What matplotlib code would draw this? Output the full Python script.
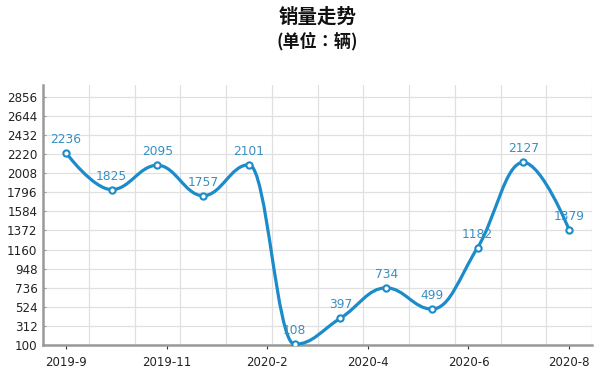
'''
Monthly sales trend line chart (销量走势)
'''

import numpy as np
import matplotlib
matplotlib.use("Agg")
import matplotlib.pyplot as plt
from matplotlib.path import Path
from matplotlib.patches import PathPatch

plt.rcParams['font.family'] = ['DejaVu Sans', 'Noto Sans CJK SC']

months = ['2019-9', '2019-10', '2019-11', '2019-12', '2020-1', '2020-2',
          '2020-3', '2020-4', '2020-5', '2020-6', '2020-7', '2020-8']
sales = [2236, 1825, 2095, 1757, 2101, 108, 397, 734, 499, 1182, 2127, 1379]
tick_labels = ['2019-9', '2019-11', '2020-2', '2020-4', '2020-6', '2020-8']
y_ticks = [100, 312, 524, 736, 948, 1160, 1372, 1584, 1796, 2008, 2220,
           2432, 2644, 2856]

LINE = '#1b8bc9'
LABEL = '#3a8fc0'


def spline_path(xs, ys, smoothing=1.5):
    '''
    Build a smooth bezier path through the points (same idea as a
    charting library "spline" series: flat at local extremes).
    '''
    denom = smoothing + 1
    n = len(xs)
    right_cont = [None] * n
    verts = [(xs[0], ys[0])]
    codes = [Path.MOVETO]
    for i in range(1, n):
        x, y = xs[i], ys[i]
        lx, ly = xs[i - 1], ys[i - 1]
        left_x, left_y = x, y
        if i < n - 1:
            nx, ny = xs[i + 1], ys[i + 1]
            left_x = (smoothing * x + lx) / denom
            left_y = (smoothing * y + ly) / denom
            r_x = (smoothing * x + nx) / denom
            r_y = (smoothing * y + ny) / denom
            corr = (r_y - left_y) * (r_x - x) / (r_x - left_x) + y - r_y
            left_y += corr
            r_y += corr
            if left_y > ly and left_y > y:
                left_y = max(ly, y)
                r_y = 2 * y - left_y
            elif left_y < ly and left_y < y:
                left_y = min(ly, y)
                r_y = 2 * y - left_y
            if r_y > ny and r_y > y:
                r_y = max(ny, y)
                left_y = 2 * y - r_y
            elif r_y < ny and r_y < y:
                r_y = min(ny, y)
                left_y = 2 * y - r_y
            right_cont[i] = (r_x, r_y)
        prev = right_cont[i - 1] if right_cont[i - 1] else (lx, ly)
        verts += [prev, (left_x, left_y), (x, y)]
        codes += [Path.CURVE4] * 3
    return Path(verts, codes)


fig = plt.figure(figsize=(6, 3.8), dpi=100)
ax = fig.add_axes([43 / 600, 1 - 345 / 380, 549 / 600, 260 / 380])

x = np.arange(len(months))
ax.add_patch(PathPatch(spline_path(x, sales), fill=False, edgecolor=LINE,
                       lw=2.3, capstyle='round', joinstyle='round', zorder=3))
ax.plot(x, sales, 'o', ms=4.5, mfc='white', mec=LINE, mew=1.5, zorder=4)

for xi, v in zip(x, sales):
    ax.annotate(str(v), (xi, v), xytext=(0, 5), textcoords='offset points',
                ha='center', va='bottom', fontsize=8.8, color=LABEL, zorder=5)

ax.set_xlim(-0.5, len(months) - 0.5)
ax.set_ylim(100, 2986)
ax.set_yticks(y_ticks)
ax.set_yticklabels([str(t) for t in y_ticks])
ax.set_xticks(np.linspace(0, len(months) - 1, len(tick_labels)))
ax.set_xticklabels(tick_labels)
ax.set_xticks(np.arange(len(months)) + 0.5, minor=True)

ax.grid(True, 'major', 'y', color='#e0e0e0', lw=0.9)
ax.grid(True, 'minor', 'x', color='#e0e0e0', lw=0.9)
ax.set_axisbelow(True)

ax.tick_params(axis='x', which='major', length=3, width=0.8, color='#333333',
               labelsize=8.5, labelcolor='#222222', pad=5)
ax.tick_params(axis='x', which='minor', length=0)
ax.tick_params(axis='y', length=2, direction='in', color='#999999',
               labelsize=8.6, labelcolor='#222222', pad=4)

ax.spines['top'].set_visible(False)
ax.spines['right'].set_visible(False)
for side in ['left', 'bottom']:
    ax.spines[side].set_color('#999999')
    ax.spines[side].set_linewidth(1.8)

# titles are centred over the plot area, not the whole figure
cx = 317.5 / 600
fig.text(cx, 1 - 17 / 380, '销量走势', ha='center', va='center',
         fontsize=14, fontweight='bold', family='Noto Sans CJK SC',
         color='#111111')
fig.text(cx, 1 - 41 / 380, '(单位：辆)', ha='center', va='center',
         fontsize=12.3, fontweight='bold', family='Noto Sans CJK TC',
         color='#111111')

fig.savefig('out.png', dpi=100)
